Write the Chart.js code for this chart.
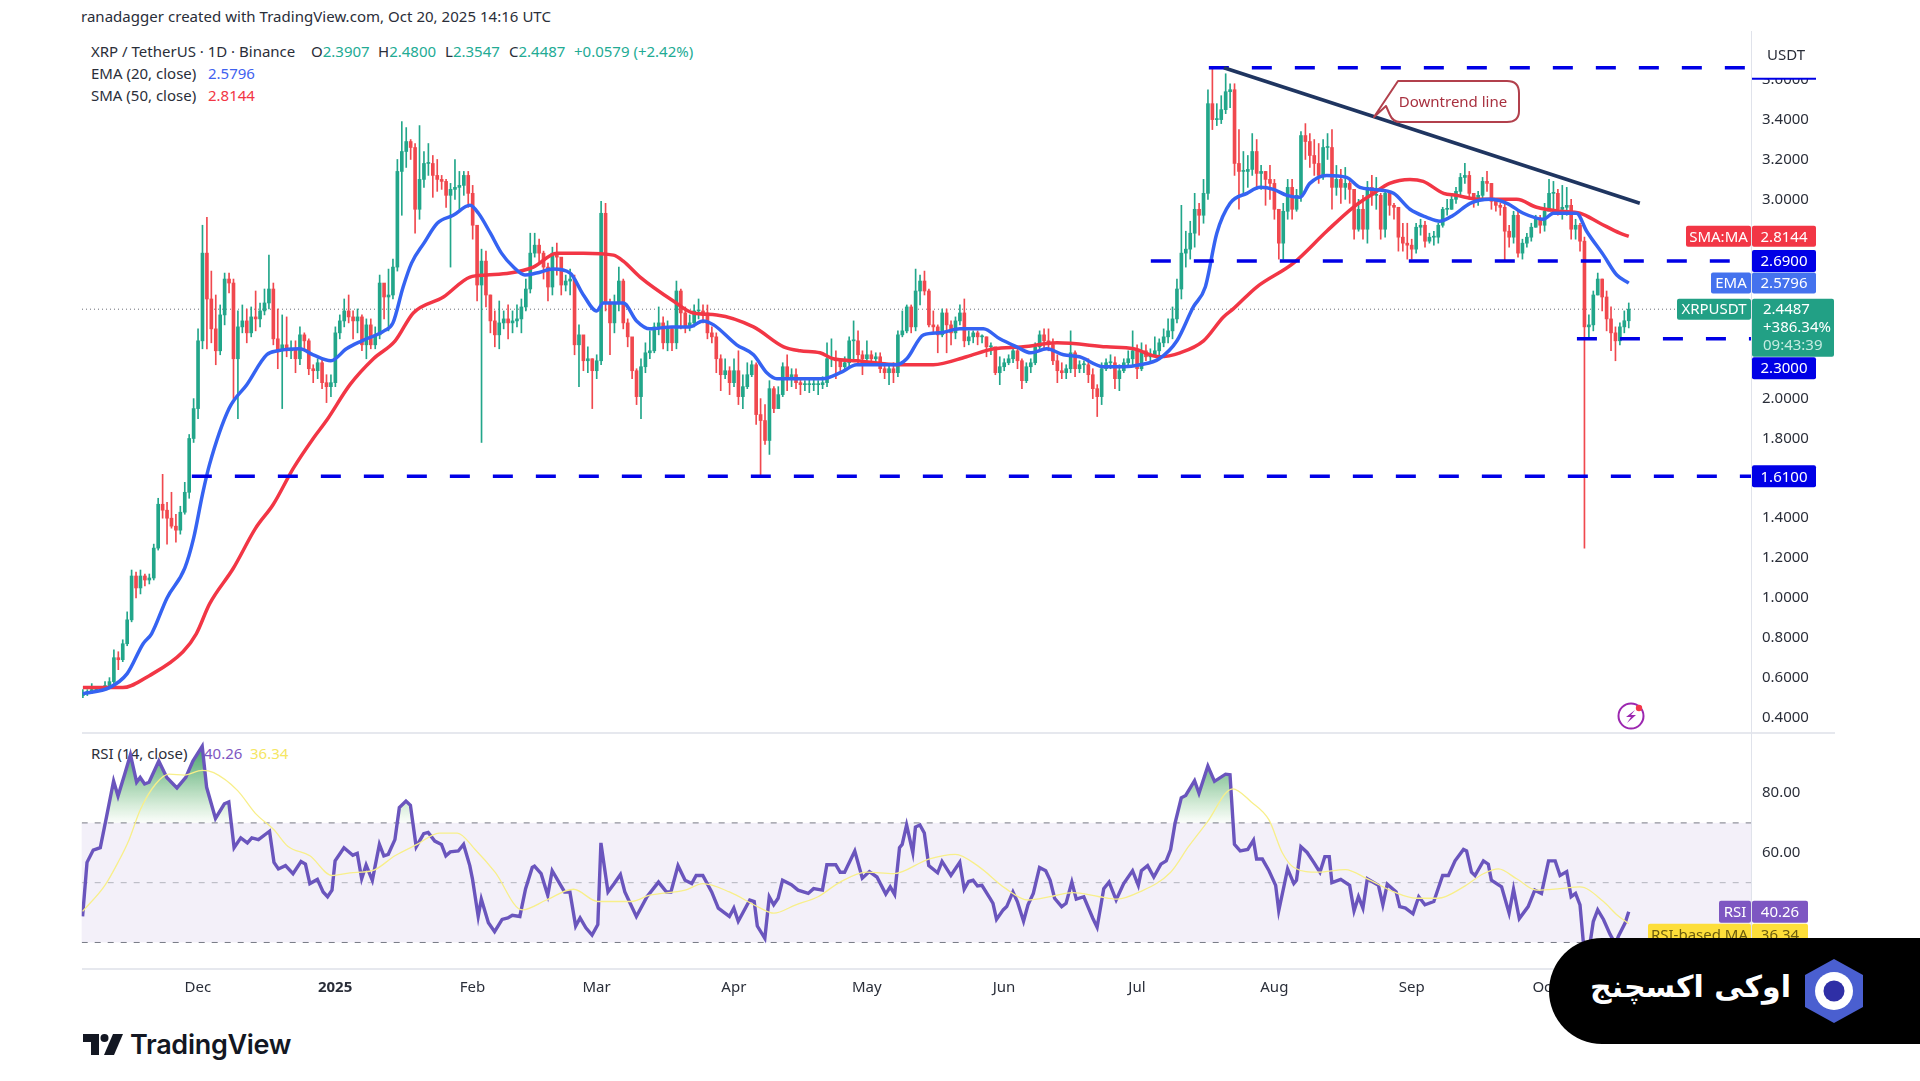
<!doctype html>
<html lang="en">
  <head>
    <meta charset="UTF-8" />
    <title>XRP / TetherUS - 1D</title>
    <script src="https://cdn.jsdelivr.net/npm/chart.js@4/dist/chart.umd.min.js"></script>
    <style>
      html, body { margin: 0; padding: 0; background: #fff; }
      body { width: 1920px; height: 1081px; position: relative; overflow: hidden; font-family: "Noto Sans", sans-serif; color: #131722; }
      canvas { position: absolute; z-index: 2; }
      .txt { position: absolute; z-index: 1; font-size: 15px; line-height: 20px; white-space: nowrap; color: #2a2e39; }
      .up { color: #22ab94; }
      .sep { position: absolute; z-index: 1; left: 82px; width: 1753px; height: 2px; background: #e6e8ee; }
      .over { position: absolute; z-index: 3; }
      #pill { left: 1549px; top: 938px; width: 371px; height: 106px; background: #000; border-radius: 53px 0 0 53px; }
      #pillText { position: absolute; left: 34px; top: 21px; width: 215px; text-align: center; direction: rtl; white-space: nowrap; font: bold 30px "DejaVu Sans", sans-serif; line-height: 56px; color: #fff; }
      #callText { left: 1387px; top: 91px; width: 132px; text-align: center; font-size: 15px; line-height: 20px; color: #a8303f; }
      #tvText { left: 130px; top: 1027px; font: 600 27px Inter, sans-serif; line-height: 36px; color: #131722; letter-spacing: -0.3px; }
    </style>
  </head>
  <body>
    <div class="txt" style="left:81px;top:6px;letter-spacing:.03px">ranadagger created with TradingView.com, Oct 20, 2025 14:16 UTC</div>

    <div class="txt" style="left:91px;top:41px">XRP / TetherUS · 1D · Binance</div>
    <div class="txt" style="left:311px;top:41px">O<span class="up">2.3907</span></div>
    <div class="txt" style="left:378px;top:41px">H<span class="up">2.4800</span></div>
    <div class="txt" style="left:445px;top:41px">L<span class="up">2.3547</span></div>
    <div class="txt" style="left:509px;top:41px">C<span class="up">2.4487</span></div>
    <div class="txt up" style="left:574px;top:41px">+0.0579 (+2.42%)</div>
    <div class="txt" style="left:91px;top:63px">EMA (20, close)</div>
    <div class="txt" style="left:208px;top:63px;color:#3f62ef">2.5796</div>
    <div class="txt" style="left:91px;top:85px">SMA (50, close)</div>
    <div class="txt" style="left:208px;top:85px;color:#f23645">2.8144</div>
    <div class="txt" style="left:91px;top:743px">RSI (14, close)</div>
    <div class="txt" style="left:204px;top:743px;color:#7e57c2">40.26</div>
    <div class="txt" style="left:250px;top:743px;color:#f5e663">36.34</div>

    <div class="sep" style="top:732px"></div>
    <div class="sep" style="top:968px"></div>

    <canvas id="priceChart" width="1753" height="703" style="left:82px;top:31px;width:1753px;height:703px"></canvas>
    <canvas id="rsiChart" width="1755" height="272" style="left:80px;top:733px;width:1755px;height:272px"></canvas>

    <!-- callout on the trend line -->
    <svg class="over" style="left:1360px;top:70px" width="170" height="62">
      <path d="M38 11 Q39 11 44 11 L147 11 Q159 11 159 23 L159 41 Q159 52 147 52 L40 52 Q33 52 30 45 L26 36 L14 47 Z" fill="#fff" stroke="#b2404c" stroke-width="2" stroke-linejoin="round"/>
    </svg>
    <div class="over" id="callText">Downtrend line</div>

    <!-- lightning badge -->
    <svg class="over" style="left:1614px;top:700px" width="34" height="32">
      <circle cx="17" cy="16" r="12.5" fill="none" stroke="#9c27b0" stroke-width="2"/>
      <path d="M21 10 L12 17 L17 17 L13 23 L22 15 L17 15 Z" fill="#9c27b0"/>
      <circle cx="25" cy="8" r="3.2" fill="#f2364a"/>
    </svg>

    <!-- footer brand -->
    <svg class="over" style="left:83px;top:1034px" width="40" height="21" viewBox="0 0 40 21">
      <path d="M0 0 H16 V21 H8 V8 H0 Z" fill="#131722"/>
      <circle cx="21.5" cy="4" r="4" fill="#131722"/>
      <path d="M30 0 H40 L31 21 H21 Z" fill="#131722"/>
    </svg>
    <div class="over" id="tvText">TradingView</div>

    <!-- exchange badge -->
    <div class="over" id="pill">
      <div id="pillText">اوکی اکسچنج</div>
      <svg style="position:absolute;left:256px;top:21px" width="58" height="64" viewBox="0 0 58 64">
        <path d="M29 0 L58 16 L58 48 L29 64 L0 48 L0 16 Z" fill="#4a5fd0"/>
        <circle cx="29" cy="32" r="19" fill="#fff"/>
        <circle cx="29" cy="32" r="10.5" fill="#2f2fa6"/>
      </svg>
    </div>

    <script>
const closes = [
  .52,.53,.54,.54,.54,.56,.58,.70,.69,.77,
  .89,1.11,1.05,1.11,1.09,1.10,1.25,1.47,1.44,1.40,
  1.36,1.34,1.43,1.53,1.80,1.95,2.29,2.73,2.50,2.35,
  2.24,2.42,2.60,2.58,2.20,2.36,2.39,2.33,2.41,2.40,
  2.44,2.48,2.55,2.30,2.24,2.27,2.24,2.25,2.20,2.32,
  2.29,2.15,2.14,2.18,2.08,2.06,2.08,2.33,2.39,2.44,
  2.41,2.39,2.41,2.27,2.37,2.27,2.32,2.58,2.51,2.52,
  2.66,3.14,3.24,3.29,3.26,2.95,3.10,3.18,3.18,3.12,
  3.10,3.09,3.02,3.05,3.06,3.07,3.12,3.03,2.87,2.57,
  2.69,2.52,2.39,2.32,2.38,2.40,2.38,2.39,2.40,2.46,
  2.55,2.73,2.77,2.73,2.66,2.56,2.73,2.71,2.57,2.59,
  2.60,2.27,2.32,2.19,2.20,2.14,2.19,2.93,2.48,2.38,
  2.48,2.59,2.38,2.31,2.14,2.01,2.16,2.23,2.24,2.36,
  2.38,2.28,2.35,2.28,2.54,2.43,2.36,2.38,2.44,2.44,
  2.43,2.33,2.31,2.20,2.12,2.14,2.08,2.14,2.01,2.06,
  2.12,2.17,1.92,1.89,1.79,2.05,1.95,2.02,2.16,2.10,
  2.12,2.08,2.07,2.07,2.07,2.07,2.07,2.08,2.20,2.20,
  2.19,2.16,2.18,2.29,2.29,2.22,2.20,2.22,2.20,2.21,
  2.15,2.13,2.15,2.13,2.32,2.34,2.46,2.36,2.54,2.59,
  2.54,2.37,2.36,2.32,2.43,2.37,2.33,2.39,2.43,2.29,
  2.31,2.33,2.31,2.31,2.26,2.26,2.13,2.16,2.18,2.20,
  2.24,2.19,2.09,2.16,2.18,2.26,2.32,2.29,2.27,2.19,
  2.14,2.13,2.15,2.23,2.15,2.17,2.17,2.12,2.05,2.01,
  2.15,2.18,2.18,2.10,2.14,2.18,2.20,2.24,2.15,2.24,
  2.21,2.22,2.24,2.28,2.31,2.34,2.40,2.55,2.73,2.75,
  2.83,2.95,2.92,3.03,3.48,3.40,3.40,3.45,3.54,3.55,
  3.18,3.14,3.14,3.15,3.24,3.13,3.14,3.10,3.08,2.95,
  2.78,2.94,3.06,2.95,3.02,3.32,3.29,3.22,3.18,3.12,
  3.26,3.26,3.06,3.10,3.06,3.08,3.05,2.85,2.95,2.85,
  3.06,3.02,3.02,2.85,3.03,2.97,2.96,2.81,2.78,2.77,
  2.75,2.86,2.87,2.79,2.81,2.81,2.87,2.95,2.95,3.00,
  3.04,3.11,3.12,3.03,3.00,3.02,3.09,3.08,2.99,2.97,
  2.96,2.84,2.81,2.92,2.73,2.78,2.81,2.86,2.90,2.87,
  2.94,3.03,3.03,2.95,2.96,2.97,2.85,2.87,2.79,2.36,
  2.37,2.52,2.60,2.51,2.40,2.33,2.29,2.36,2.3907,2.4487
];
const highs = [
  .54,.54,.57,.55,.55,.58,.60,.74,.73,.79,
  .93,1.14,1.13,1.14,1.12,1.12,1.27,1.50,1.62,1.48,
  1.53,1.42,1.46,1.58,1.82,2.00,2.35,2.87,2.91,2.64,
  2.52,2.47,2.63,2.63,2.60,2.44,2.47,2.45,2.46,2.54,
  2.48,2.55,2.72,2.58,2.45,2.42,2.41,2.29,2.29,2.36,
  2.33,2.30,2.17,2.20,2.20,2.12,2.12,2.36,2.42,2.50,
  2.52,2.44,2.45,2.42,2.40,2.40,2.36,2.62,2.56,2.65,
  2.70,3.20,3.39,3.36,3.30,3.28,3.37,3.24,3.28,3.22,
  3.20,3.12,3.10,3.08,3.20,3.14,3.14,3.14,3.07,2.87,
  2.75,2.74,2.52,2.44,2.49,2.44,2.47,2.44,2.47,2.50,
  2.60,2.83,2.83,2.80,2.74,2.68,2.76,2.78,2.70,2.62,
  2.65,2.62,2.37,2.30,2.26,2.20,2.22,2.99,2.98,2.50,
  2.52,2.66,2.60,2.40,2.25,2.15,2.20,2.28,2.34,2.38,
  2.46,2.41,2.39,2.36,2.59,2.55,2.46,2.42,2.47,2.50,
  2.47,2.47,2.36,2.33,2.22,2.20,2.16,2.20,2.24,2.12,
  2.18,2.19,2.18,2.00,1.97,2.09,2.06,2.06,2.18,2.22,
  2.15,2.15,2.10,2.09,2.10,2.10,2.09,2.11,2.28,2.30,
  2.24,2.20,2.21,2.31,2.39,2.34,2.24,2.29,2.24,2.23,
  2.23,2.18,2.17,2.18,2.34,2.44,2.47,2.47,2.65,2.62,
  2.64,2.55,2.44,2.37,2.45,2.45,2.39,2.41,2.47,2.50,
  2.34,2.34,2.34,2.32,2.31,2.28,2.22,2.21,2.20,2.22,
  2.26,2.25,2.20,2.18,2.20,2.28,2.34,2.35,2.35,2.30,
  2.22,2.18,2.17,2.34,2.24,2.19,2.19,2.20,2.15,2.07,
  2.18,2.20,2.22,2.21,2.17,2.20,2.24,2.34,2.27,2.28,
  2.27,2.25,2.31,2.30,2.35,2.40,2.46,2.60,2.97,2.84,
  2.89,3.03,2.98,3.10,3.55,3.66,3.48,3.52,3.63,3.58,
  3.58,3.35,3.24,3.22,3.33,3.30,3.17,3.14,3.17,3.10,
  2.95,2.98,3.10,3.10,3.05,3.34,3.38,3.33,3.30,3.28,
  3.30,3.33,3.35,3.17,3.15,3.16,3.10,3.05,3.00,3.02,
  3.09,3.12,3.11,3.03,3.05,3.04,2.98,2.96,2.88,2.88,
  2.80,2.88,2.90,2.89,2.83,2.84,2.88,2.96,3.00,3.03,
  3.06,3.13,3.18,3.14,3.03,3.04,3.11,3.14,3.08,3.00,
  2.98,2.98,2.87,2.94,2.94,2.80,2.83,2.88,2.92,2.92,
  2.98,3.10,3.09,3.05,3.07,3.06,3.00,2.90,2.88,2.81,
  2.42,2.54,2.63,2.60,2.54,2.46,2.36,2.38,2.44,2.48
];
const lows = [
  .50,.51,.52,.53,.53,.54,.56,.57,.64,.68,
  .76,.88,1.00,1.02,1.06,1.07,1.09,1.24,1.40,1.27,
  1.35,1.28,1.32,1.42,1.50,1.78,1.90,2.25,2.25,2.28,
  2.17,2.22,2.37,2.53,2.00,1.90,2.33,2.28,2.31,2.34,
  2.36,2.42,2.45,2.27,2.15,1.95,2.21,2.20,2.13,2.17,
  2.25,2.12,2.08,2.10,2.05,1.98,2.01,2.06,2.30,2.36,
  2.38,2.30,2.33,2.24,2.20,2.25,2.25,2.30,2.40,2.34,
  2.50,2.64,2.92,3.16,3.20,2.83,2.90,3.06,3.12,3.01,
  3.04,3.05,2.96,2.66,3.00,2.94,3.02,2.96,2.80,2.49,
  1.78,2.46,2.33,2.26,2.25,2.35,2.30,2.33,2.36,2.33,
  2.44,2.53,2.71,2.68,2.60,2.49,2.52,2.62,2.52,2.54,
  2.52,2.22,2.06,2.14,2.13,1.95,2.10,2.17,2.44,2.22,
  2.33,2.44,2.35,2.26,2.10,1.97,1.90,2.13,2.20,2.23,
  2.32,2.25,2.24,2.24,2.25,2.35,2.33,2.34,2.36,2.40,
  2.38,2.30,2.28,2.13,2.04,2.10,2.02,2.06,1.97,1.95,
  2.05,2.11,1.87,1.61,1.77,1.72,1.93,1.95,2.01,2.04,
  2.06,2.05,2.02,2.04,2.03,2.04,2.02,2.05,2.06,2.16,
  2.10,2.13,2.14,2.16,2.20,2.18,2.12,2.19,2.18,2.18,
  2.13,2.10,2.07,2.08,2.11,2.31,2.33,2.33,2.34,2.47,
  2.52,2.36,2.33,2.23,2.31,2.23,2.27,2.30,2.37,2.26,
  2.27,2.28,2.27,2.28,2.21,2.22,2.12,2.07,2.14,2.17,
  2.18,2.15,2.05,2.08,2.13,2.17,2.25,2.25,2.24,2.17,
  2.08,2.10,2.10,2.13,2.11,2.13,2.13,2.08,2.00,1.91,
  1.97,2.14,2.15,2.05,2.04,2.13,2.17,2.17,2.10,2.14,
  2.19,2.19,2.21,2.22,2.26,2.28,2.30,2.38,2.50,2.66,
  2.70,2.76,2.82,2.88,3.00,3.35,3.37,3.38,3.43,3.46,
  3.12,2.95,3.03,3.06,3.12,3.05,3.05,2.97,3.00,2.90,
  2.70,2.70,2.90,2.90,2.94,2.99,3.20,3.16,3.12,3.08,
  3.10,3.20,2.95,3.02,2.98,3.00,2.98,2.80,2.84,2.80,
  2.78,2.97,2.95,2.80,2.81,2.92,2.90,2.74,2.74,2.70,
  2.70,2.73,2.82,2.76,2.78,2.77,2.78,2.86,2.92,2.95,
  2.98,3.02,3.08,3.00,2.96,2.97,3.00,3.04,2.95,2.94,
  2.92,2.69,2.76,2.78,2.71,2.70,2.76,2.79,2.86,2.83,
  2.84,2.95,2.94,2.92,2.90,2.92,2.80,2.80,2.74,1.25,
  2.30,2.34,2.52,2.44,2.34,2.24,2.19,2.27,2.33,2.3547
];
const firstOpen = 0.51;

const emaDays = [0,6,10,13.6,15.5,19,23,25,27,28.6,33,37,41.5,44,49,52,56,59.5,63,68,70,72.3,74.2,77,80,83.6,87.4,89.3,92,94.5,97.2,99.8,102.4,106.2,110,113,116,117.5,122,125,128,133,137,140,142.4,147.6,151.4,154.4,156.7,161,167,171,174.7,180,183.7,186,189.8,193.5,198,203.3,207,210.8,214,217.6,221.4,225,230.4,235,238.7,243,247,250.7,253.4,256,259,262.8,265.8,268.8,271.8,274.8,277,280.8,285.3,288.3,291.4,295.9,299.6,303.4,306.4,309.4,313.2,317.7,321.5,325.2,329.7,332,337.2,339.5,343.3,346.3,349];
const emaValues = [.52,.55,.62,.77,.82,1.00,1.15,1.30,1.52,1.67,1.95,2.07,2.22,2.24,2.25,2.22,2.19,2.25,2.29,2.34,2.38,2.56,2.68,2.78,2.88,2.92,2.97,2.93,2.83,2.73,2.66,2.62,2.63,2.65,2.63,2.52,2.44,2.48,2.48,2.39,2.35,2.36,2.36,2.39,2.37,2.27,2.22,2.13,2.10,2.10,2.10,2.13,2.17,2.17,2.17,2.20,2.32,2.33,2.35,2.35,2.30,2.26,2.23,2.25,2.22,2.21,2.16,2.16,2.17,2.20,2.29,2.46,2.56,2.83,2.98,3.03,3.06,3.05,3.02,3.01,3.08,3.12,3.11,3.06,3.05,3.03,2.95,2.91,2.89,2.92,2.98,3.00,2.98,2.93,2.90,2.93,2.93,2.84,2.72,2.62,2.5796];

const smaDays = [0,9,15,22.6,25.6,28.6,34,39,43,47.5,52,55,60.3,65.6,70.5,74.6,81.4,87.4,91.2,96.4,101.7,107,113,119.8,122,125.8,133.3,137.8,143.1,151.4,158.2,161.9,166.4,169.4,174.7,184.5,192,199.5,205.6,212.3,219.9,231.1,237.2,243,247.7,253,257.5,259.7,265,273.3,280.8,286.8,291.4,295,299.6,302.6,307.2,310,315.4,323.7,328.2,333.5,338,342.5,347,349];
const smaValues = [.55,.55,.61,.73,.82,.97,1.15,1.35,1.47,1.65,1.80,1.89,2.07,2.20,2.29,2.43,2.51,2.61,2.62,2.63,2.66,2.73,2.73,2.72,2.69,2.61,2.49,2.43,2.42,2.36,2.26,2.24,2.23,2.20,2.19,2.17,2.17,2.21,2.25,2.26,2.28,2.26,2.25,2.21,2.23,2.29,2.41,2.45,2.56,2.68,2.84,2.96,3.03,3.08,3.10,3.09,3.03,3.02,3.00,3.00,2.96,2.94,2.93,2.88,2.83,2.8144];

const rsiDays = [0,1,2.4,4,5.4,7,8,9.5,10.8,12.2,13,14,15,17.2,19,21.3,23.3,24.9,27,28,30,32,33,34.2,35.7,37.2,38.2,39.7,42.2,43.2,44.2,45.8,47.5,49.3,50.3,51.3,53,54.3,55.3,56.3,57,59,61,62,63,64,65.4,67,68,69,70.5,71.5,73,74,75.3,77,78,79.5,81,82,83,84.8,86,87.4,88,89.3,90,91.6,93,94.7,96,97,98.7,100,101.5,102,103.5,105,106,108.8,110,111.3,112.3,113.6,115,116.3,117,118.6,120,121.4,122.4,125,127.4,130,131.8,132.8,134.4,136,137.5,138.5,140,142,143.5,145,146,147,148,150.6,151.6,152.3,154,155,156,157,158,160,161.5,163.8,165,167,168,170,171,172,174.3,176,177.6,179.3,181.3,182.3,183.3,184.4,185,186,187.4,188,189,190,191,193,194,196,198,199,200,201,202,203,204.8,205.5,206.3,207.8,208.6,210,211,212.4,213.4,214.6,216,217.4,218.4,219.4,221,222,223.3,224.3,226,228,229,230.5,231.7,233.3,235,237,238.3,239,240.4,241.8,243.4,244.6,245.6,246.6,248,249,251,252,254,255.5,258,259,260,261.3,263,264.3,265,266.3,267.8,269.3,270,272,273.4,274,275,276.4,277.9,279.3,280.4,281.4,282,284,286,287,288,289,290,292.5,293.5,294.5,296.5,297.3,298.6,300.3,301.6,303,305,307,308.3,309.8,311.7,312.4,313.5,314.3,316.2,317.3,318,320.3,322,323,324.3,326.3,327.8,329.3,330.9,332.4,333.5,335,336,337,338,339,340,341,342,343.3,344.8,346,346.7,348.2,349];
const rsiValues = [38.7,56.8,60.9,61.7,72,84,79,86.3,92.8,83.6,85.2,83,83.6,90.7,85.2,81.7,85.2,90.7,95.6,81.9,71.5,76.4,77,61.7,65,63.3,65,64.4,67.2,56.8,54.6,55.7,53,57.1,56.2,49.7,51.1,46.9,45.3,47.5,57.3,61.7,59.2,59.8,51.3,55.9,50.8,62.8,59,59.5,64.4,75.1,77.3,75.9,62,66.4,66.8,63.9,62.8,59,60.3,60.6,62.8,55.7,51.3,38.7,44.5,36.6,33.6,37.7,38.2,39.1,38.7,48,55.1,55.5,53,45.8,54,46.9,46.9,35.5,38.2,34.9,32.5,36,63.3,46.9,49.7,52.7,46.9,38.7,45.3,50.2,46.9,46.9,55.7,50.8,49.7,52.4,52.4,46.9,41.5,39.8,38.7,41.5,37.1,44.2,43.7,35.5,31.4,45.3,42.6,44.8,50.8,49.3,47.5,46.4,48,47.5,56,56,53.5,53.5,60.6,51.5,53.7,51.9,46.2,48.6,46.1,61.7,62.8,69.3,60.1,68.6,69.3,66.6,55.7,53.3,57.1,52.4,56.8,47.8,50.4,50.8,48.9,49.1,44.8,43.1,37.7,40.9,42,46.9,43.7,37.1,42.6,46.4,55.1,54,50.8,44.8,42,43.1,50.2,44.5,45.3,38.2,35.1,48,50.2,44.2,49.7,54,49.1,54,55.7,51.9,56.2,57.3,61.1,69.9,78.4,79.2,84.1,79.9,89,83.9,86.3,86.1,62.8,60.6,61.1,64.2,57.9,57.9,54,49.1,40.6,54.6,49.7,50.8,62,60.1,56.8,53.5,58.7,58.7,50,51.1,49.1,40.6,45.3,41.5,51.3,49.1,42.6,49.5,46.9,42,41.5,39.6,45.3,42.6,43.7,52.4,52.4,57.3,61.1,60.6,53.5,52.4,57.3,56.2,50.8,48.6,39.8,47.8,38,42,47.5,46.4,57.3,57.3,52.4,53.7,45.3,46.4,42.6,26,27,37,40.9,37.7,32.7,29.5,32.2,36.6,40.26];

const rsiMaDays = [0,5,8,10.5,13,16.5,19.5,23,27,29.6,35,39,43.2,46.3,51.3,56.3,60.4,65.4,70.5,75.5,80.5,84.6,88.6,93.1,99.2,104.7,110.8,116.3,123.9,128,136,140,146,153,156,161,166,171,177,183,191,197,202,208.4,213.4,218.4,223.5,229.5,233.5,238.6,245.6,249.7,253.7,259.6,263.8,267.8,270.8,273.4,278.9,285,290,296,301,306,311.7,316.2,319.6,323.7,328.2,333.5,338,343.3,346.3,349];
const rsiMaValues = [40.4,49,56.8,64.4,74.3,83,86.3,86,87.6,86.8,80.8,73.2,67.7,62.2,59,52.4,53.3,54,59,62.8,66.6,66.6,61.1,53.5,40.9,44.2,47.8,43.7,43.7,45.8,47.5,49.7,46.9,41.5,39.8,42.6,45.3,50.2,53.5,53,57.9,59.5,55.7,48,44.2,45.3,46.7,45.3,44.5,46.9,53.5,62.2,69.9,81.4,77,71,60,55.1,53.5,54.4,51.3,46.9,44.8,44.8,48.6,53,54.6,51.3,47.5,48,48.6,43.7,39.3,36.34];

const priceTicks = [3.6,3.4,3.2,3,2,1.8,1.4,1.2,1,.8,.6,.4];
const rsiTicks = [80,60];
const rsiGuides = [70,50,30];
const monthDays = [26,57,88,116,147,177,208,238,269,300,330];
const monthLabels = ['Dec','2025','Feb','Mar','Apr','May','Jun','Jul','Aug','Sep','Oct'];

// key levels: value, first day, last day
const levelValues = [3.66,2.69,2.30,1.61];
const levelStarts = [254.2,241.1,337.3,24.6];
const levelEnds = [376.6,371.8,376.6,376.6];
const trendDays = [257.6,351.5];
const trendValues = [3.66,2.98];

const lastClose = 2.4487, lastEma = 2.5796, lastSma = 2.8144;
const lastRsi = 40.26, lastRsiMa = 36.34;

const X_MIN = -0.2, X_MAX = 376.6;
const UP = '#22a68a', DOWN = '#f0484e';

const opens = closes.map((c, i) => i ? closes[i - 1] : firstOpen); // spot candles open at the prior close
const candleColors = closes.map((c, i) => c >= opens[i] ? UP : DOWN);
const pts = (days, vals) => days.map((d, i) => ({ x: d, y: vals[i] }));

function line(data, color, width, order, extra) {
  return Object.assign({ type: 'line', data, borderColor: color, borderWidth: width, pointRadius: 0, order }, extra);
}

function tag(ctx, x, y, w, h, color, text, textColor) {
  ctx.fillStyle = color;
  ctx.beginPath();
  ctx.roundRect(x, y, w, h, 2);
  ctx.fill();
  ctx.fillStyle = textColor || '#fff';
  ctx.font = '15px "Noto Sans"';
  ctx.textBaseline = 'middle';
  ctx.textAlign = 'center';
  ctx.fillText(text, x + w / 2, y + h / 2 + 1);
}

const priceTags = {
  id: 'priceTags',
  afterDraw(chart) {
    const { ctx, chartArea, scales } = chart;
    const ax = chartArea.right + 1, y = v => scales.y.getPixelForValue(v);
    ctx.save();
    // header box hides the top of the 3.6 label
    ctx.fillStyle = '#fff';
    ctx.fillRect(ax, 0, 82, y(3.6) - 1);
    ctx.fillStyle = '#0000e6';
    ctx.fillRect(ax, y(3.6) - 2, 64, 2);
    ctx.fillStyle = '#2a2e39';
    ctx.font = '15px "Noto Sans"';
    ctx.textAlign = 'center';
    ctx.textBaseline = 'middle';
    ctx.fillText('USDT', ax + 34, 25);

    tag(ctx, ax - 66, y(lastSma) - 10.5, 65, 21, '#f23645', 'SMA:MA');
    tag(ctx, ax, y(lastSma) - 10.5, 64, 21, '#f23645', lastSma.toFixed(4));
    tag(ctx, ax, y(2.69) - 11, 64, 22, '#0000e6', (2.69).toFixed(4));
    tag(ctx, ax - 41, y(lastEma) - 10.5, 40, 21, '#4472ee', 'EMA');
    tag(ctx, ax, y(lastEma) - 10.5, 64, 21, '#4472ee', lastEma.toFixed(4));

    const yc = y(lastClose);
    tag(ctx, ax - 75, yc - 10.5, 74, 21, '#22a085', 'XRPUSDT');
    ctx.fillStyle = '#22a085';
    ctx.beginPath();
    ctx.roundRect(ax, yc - 10.5, 82, 58, 2);
    ctx.fill();
    ctx.textAlign = 'left';
    ctx.textBaseline = 'middle';
    ctx.fillStyle = '#fff';
    ctx.font = '15px "Noto Sans"';
    ctx.fillText(lastClose.toFixed(4), ax + 11, yc + 1);
    ctx.fillText('+386.34%', ax + 11, yc + 19);
    ctx.fillStyle = '#c4ebe0';
    ctx.fillText('09:43:39', ax + 11, yc + 37);

    // the 2.30 label sits under the price box rather than on its level
    tag(ctx, ax, yc + 48, 64, 22, '#0000e6', (2.30).toFixed(4));
    tag(ctx, ax, y(1.61) - 11, 64, 22, '#0000e6', (1.61).toFixed(4));
    ctx.restore();
  }
};

const rsiBand = {
  id: 'rsiBand',
  beforeDatasetsDraw(chart) {
    const { ctx, chartArea, scales } = chart;
    const top = scales.y.getPixelForValue(70), bottom = scales.y.getPixelForValue(30);
    ctx.save();
    ctx.fillStyle = 'rgba(126,87,194,0.09)';
    ctx.fillRect(chartArea.left, top, chartArea.width, bottom - top);
    ctx.restore();
  },
  afterDraw(chart) {
    const { ctx, chartArea, scales } = chart;
    const ax = chartArea.right + 1, y = v => scales.y.getPixelForValue(v);
    ctx.save();
    tag(ctx, ax - 33, y(lastRsi) - 11, 32, 22, '#7e57c2', 'RSI');
    tag(ctx, ax, y(lastRsi) - 11, 56, 22, '#7e57c2', lastRsi.toFixed(2));
    // TradingView pushes this label down so it does not collide with RSI
    tag(ctx, ax - 104, y(lastRsi) + 12, 103, 22, '#fdde3a', 'RSI-based MA', '#6b5c10');
    tag(ctx, ax, y(lastRsi) + 12, 56, 22, '#fdde3a', lastRsiMa.toFixed(2), '#6b5c10');
    ctx.restore();
  }
};

function baseOptions(yScale, xScale) {
  return {
    responsive: false,
    devicePixelRatio: 1,
    animation: false,
    layout: { padding: 0 },
    plugins: { legend: { display: false }, tooltip: { enabled: false } },
    scales: { x: xScale, y: yScale }
  };
}

const yCommon = {
  position: 'right',
  grid: { display: false },
  border: { display: true, color: '#e0e3eb' },
  // fixed gutter; labels may overhang the pane instead of shrinking it
  afterFit(s) { s.width = 84; s.paddingTop = 0; s.paddingBottom = 0; }
};
const tickFont = { family: 'Noto Sans', size: 15 };

const levelSets = levelValues.map((v, i) =>
  line(pts([levelStarts[i], levelEnds[i]], [v, v]), '#0000e6', 3.5, 1, { borderDash: [20, 23] }));

new Chart(document.getElementById('priceChart'), {
  data: {
    datasets: [
      { type: 'bar', data: closes.map((c, i) => ({ x: i, y: [lows[i], highs[i]] })), backgroundColor: candleColors, barThickness: 1, grouped: false, order: 6, minBarLength: 1 },
      { type: 'bar', data: closes.map((c, i) => ({ x: i, y: [opens[i], c] })), backgroundColor: candleColors, barThickness: 3, grouped: false, order: 5, minBarLength: 1 },
      line(pts(smaDays, smaValues), '#f23645', 3.5, 4, { cubicInterpolationMode: 'monotone' }),
      line(pts(emaDays, emaValues), '#3563f2', 3.5, 3, { cubicInterpolationMode: 'monotone' }),
      line(pts([X_MIN, 368.6], [lastClose, lastClose]), '#6a6d78', 1, 7, { borderDash: [1, 3] }),
      line(pts(trendDays, trendValues), '#1f3560', 3.6, 0),
      ...levelSets
    ]
  },
  options: baseOptions(
    Object.assign({}, yCommon, {
      min: 0.3172, max: 3.8446,
      afterBuildTicks(s) { s.ticks = priceTicks.map(v => ({ value: v })); },
      ticks: { font: tickFont, color: '#2a2e39', padding: 3, callback: v => v.toFixed(4) }
    }),
    { type: 'linear', min: X_MIN, max: X_MAX, display: false, offset: false }
  ),
  plugins: [priceTags]
});

const rsiChart = new Chart(document.getElementById('rsiChart'), {
  data: {
    datasets: [
      line(pts(rsiDays, rsiValues), '#6a55bd', 3.4, 2),
      line(pts(rsiMaDays, rsiMaValues), '#f8ef8a', 1.3, 1, { cubicInterpolationMode: 'monotone' }),
      ...rsiGuides.map((v, i) => line(pts([X_MIN, X_MAX], [v, v]), i === 1 ? '#b4b6bf' : '#787b86', 1, 3, { borderDash: [6, 7] }))
    ]
  },
  options: baseOptions(
    Object.assign({}, yCommon, {
      min: 22.13, max: 99.5,
      afterBuildTicks(s) { s.ticks = rsiTicks.map(v => ({ value: v })); },
      ticks: { font: tickFont, color: '#2a2e39', padding: 3, callback: v => v.toFixed(2) }
    }),
    {
      type: 'linear', min: X_MIN, max: X_MAX, offset: false,
      grid: { display: false }, border: { display: false },
      afterFit(s) { s.height = 39; s.paddingLeft = 0; s.paddingRight = 0; },
      afterBuildTicks(s) { s.ticks = monthDays.map(v => ({ value: v })); },
      ticks: {
        autoSkip: false, maxRotation: 0, color: '#2a2e39', padding: 5,
        font: ctx => ({ family: 'Noto Sans', size: 15, weight: ctx.tick && monthLabels[monthDays.indexOf(ctx.tick.value)] === '2025' ? 'bold' : 'normal' }),
        callback: v => monthLabels[monthDays.indexOf(v)]
      }
    }
  ),
  plugins: [rsiBand]
});

// overbought zone: green fade between the RSI line and the 70 guide
const rs = rsiChart.scales.y;
const fade = rsiChart.ctx.createLinearGradient(0, rs.getPixelForValue(96), 0, rs.getPixelForValue(70));
fade.addColorStop(0, 'rgba(34,140,85,0.9)');
fade.addColorStop(1, 'rgba(76,175,80,0.03)');
rsiChart.data.datasets[0].fill = { target: { value: 70 }, above: fade, below: 'rgba(0,0,0,0)' };
rsiChart.update('none');
    </script>
  </body>
</html>
